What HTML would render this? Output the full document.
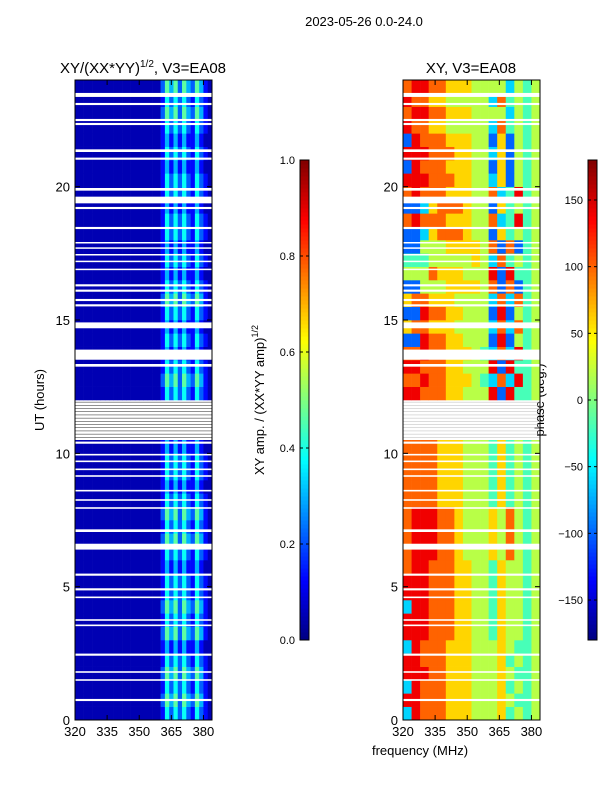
<!DOCTYPE html>
<html><head><meta charset="utf-8"><style>
body{margin:0;background:#fff;width:600px;height:800px;overflow:hidden;font-family:"Liberation Sans",sans-serif}
svg text{font-family:"Liberation Sans",sans-serif;fill:#000}
</style></head><body>
<svg id="fig" width="600" height="800" xmlns="http://www.w3.org/2000/svg">
<text x="364" y="26" font-size="13" text-anchor="middle">2023-05-26 0.0-24.0</text>
<text x="143" y="73" font-size="15" text-anchor="middle">XY/(XX*YY)<tspan dy="-6" font-size="10">1/2</tspan><tspan dy="6">, V3=EA08</tspan></text>
<text x="471" y="73" font-size="15" text-anchor="middle">XY, V3=EA08</text>
<text x="44" y="400" font-size="13" text-anchor="middle" transform="rotate(-90 44 400)">UT (hours)</text>
<text x="420" y="755" font-size="13" text-anchor="middle">frequency (MHz)</text>
<text x="264" y="400" font-size="13" text-anchor="middle" transform="rotate(-90 264 400)">XY amp. / (XX*YY amp)<tspan dy="-6" font-size="9">1/2</tspan></text>
<text x="544" y="400" font-size="13" text-anchor="middle" transform="rotate(-90 544 400)">phase (deg.)</text>
<g id="left"></g>
<g id="right"></g>
<g id="cbs"></g>
<g id="axes"></g>
</svg>
<script>
const leftRows=[
"00000000000000000000142424214210","00000000000000000000253525325310","00000000000000000000142424214210","00000000000000000000253525325310",
"00000000000000000000142424214210","00000000000000000000131313113100","00000000000000000000253525325310","00000000000000000000142424214210",
"00000000000000000000253525325310","00000000000000000000142424214210","00000000000000000000142424214210","00000000000000000000131313113100",
"00000000000000000000142424214210","00000000000000000000253525325310","00000000000000000000142424214210","00000000000000000000253525325310",
"00000000000000000000142424214210","00000000000000000000131313113100","00000000000000000000142424214210","00000000000000000000142424214210",
"00000000000000000000131313113100","xxxxxxxxxxxxxxxxxxxxxxxxxxxxxxxx","xxxxxxxxxxxxxxxxxxxxxxxxxxxxxxxx","xxxxxxxxxxxxxxxxxxxxxxxxxxxxxxxx",
"00000000000000000000142424214210","00000000000000000000253525325310","00000000000000000000142424214210","00000000000000000000131313113100",
"00000000000000000000142424214210","00000000000000000000131313113100","00000000000000000000142424214210","00000000000000000000253525325310",
"00000000000000000000142424214210","00000000000000000000131313113100","00000000000000000000142424214210","00000000000000000000131313113100",
"00000000000000000000142424214210","00000000000000000000142424214210","00000000000000000000131313113100","00000000000000000000142424214210",
"00000000000000000000142424214210","00000000000000000000131313113100","00000000000000000000142424214210","00000000000000000000131313113100",
"00000000000000000000142424214210","00000000000000000000253525325310","00000000000000000000142424214210","00000000000000000000253525325310"];
const rightRows=[
"3877766655564545","8877766655565445","3877766655564545","8887766655565445","8877766655564545","3877766655565445",
"8887776655465545","8887776655465545","3887776655465545","8887776655465545","8887776655465545","7887776655465545",
"7888776555657545","7888776555657545","7888776555657545","7888776555657545",
"7777666555464545","7777666555464545","7777666555464545","7777666555464545",
"7777666555464545","xxxxxxxxxxxxxxxx","xxxxxxxxxxxxxxxx","xxxxxxxxxxxxxxxx",
"8877766555828445","7787766654373845","8877766555828445","7787766654373845",
"2287766555282545","6776665555373745","2287766555282545","6776665555373745",
"2255566665727245","5557666555828445","4445555565374545","2255566665727245",
"2236777655264545","7877766655734845","2236777655264545","7877766655734845",
"8887776655362545","2877766655262545","8887776655362545","2877766655262545",
"8776655555374545","7887766655553545","8776655555374545","7887766655553545"];
const gapsUT=[23.44,23.1,22.5,22.35,21.35,21.05,19.9,19.5,19.2,18.45,17.9,17.7,17.45,17.2,16.9,16.3,16.1,15.75,15.55,14.8,13.7,13.3,10.4,9.95,9.7,9.4,9.15,8.6,8.25,7.95,7.1,6.5,5.45,4.9,4.6,3.75,3.55,2.45,1.8,1.5,0.75];
const gapsW=[0.15,0.08,0.08,0.08,0.1,0.08,0.1,0.25,0.08,0.08,0.05,0.05,0.05,0.05,0.05,0.08,0.08,0.08,0.08,0.22,0.38,0.1,0.08,0.06,0.06,0.06,0.06,0.06,0.06,0.06,0.1,0.22,0.08,0.08,0.06,0.06,0.06,0.08,0.06,0.06,0.08];
const xTicks=[320,335,350,365,380];
const yTicks=[0,5,10,15,20];
const ampTicks=[0.0,0.2,0.4,0.6,0.8,1.0];
const phaseTicks=[-150,-100,-50,0,50,100,150];

const NS="http://www.w3.org/2000/svg";
function jet(v){v=Math.max(0,Math.min(1,v));
 const f=t=>Math.round(255*Math.max(0,Math.min(1,1.5-Math.abs(4*v-t))));
 return `rgb(${f(3)},${f(2)},${f(1)})`;}
function mk(tag,attrs,parent){const e=document.createElementNS(NS,tag);for(const k in attrs)e.setAttribute(k,attrs[k]);parent.appendChild(e);return e;}
const P1={x0:75,x1:212},P2={x0:403,x1:540},Y0=720,Y1=80;
const yS=ut=>Y0-(ut/24)*(Y0-Y1);
const xS=(p,f)=>p.x0+(f-320)/64*(p.x1-p.x0);

function heat(rows,p,g,ncol,vmap){
 const w=64/ncol;
 rows.forEach((row,r)=>{for(let c=0;c<ncol;c++){const ch=row[c];if(ch==='x')continue;
  const x=xS(p,320+c*w),x2=xS(p,320+(c+1)*w),y=yS((r+1)*0.5),y2=yS(r*0.5);
  const el=mk('rect',{x:x,y:y,width:x2-x+0.3,height:y2-y+0.3,fill:jet(vmap(+ch))},g);
  
  }});
 gapsUT.forEach((u,i)=>{const el=mk('rect',{x:p.x0,y:yS(u+gapsW[i]/2),width:p.x1-p.x0,height:Math.max(1.5,yS(u-gapsW[i]/2)-yS(u+gapsW[i]/2)),fill:'#fff'},g);
  
  });
}
heat(leftRows,P1,document.getElementById('left'),32,d=>d/9*0.75+0.05);
heat(rightRows,P2,document.getElementById('right'),16,d=>d/9);
const ax=document.getElementById('axes');
for(let u=10.6;u<12;u+=0.12){
 const l=mk('line',{x1:P1.x0,x2:P1.x1,y1:yS(u),y2:yS(u),stroke:'#222','stroke-width':0.5},ax);
 
 
 const l2=mk('line',{x1:P2.x0,x2:P2.x1,y1:yS(u),y2:yS(u),stroke:'#bbb','stroke-width':0.5},ax);
 
 
}
[P1,P2].forEach((p,pi)=>{
 const fr=mk('rect',{x:p.x0,y:Y1,width:p.x1-p.x0,height:Y0-Y1,fill:'none',stroke:'#000','stroke-width':1},ax);
 
 
 xTicks.forEach(t=>{const x=xS(p,t);
  mk('line',{x1:x,x2:x,y1:Y0,y2:Y0-5,stroke:'#000'},ax);mk('line',{x1:x,x2:x,y1:Y1,y2:Y1+5,stroke:'#000'},ax);
  const tx=mk('text',{x:x,y:Y0+16,'font-size':13,'text-anchor':'middle'},ax);tx.textContent=t;
  
  });
 yTicks.forEach(t=>{const y=yS(t);
  mk('line',{x1:p.x0,x2:p.x0+5,y1:y,y2:y,stroke:'#000'},ax);mk('line',{x1:p.x1,x2:p.x1-5,y1:y,y2:y,stroke:'#000'},ax);
  const tx=mk('text',{x:p.x0-5,y:y+5,'font-size':13,'text-anchor':'end'},ax);tx.textContent=t;
  
  });
});
const cb=document.getElementById('cbs');
function colorbar(x,lo,hi,ticks,name){
 const n=120,top=160,bot=640;
 for(let i=0;i<n;i++){const y=bot-(i+1)*(bot-top)/n;
  mk('rect',{x:x,y:y,width:9,height:(bot-top)/n+0.5,fill:jet((i+0.5)/n)},cb);}
 const fr=mk('rect',{x:x,y:top,width:9,height:bot-top,fill:'none',stroke:'#000'},cb);
 
 
 ticks.forEach(t=>{const y=bot-(t-lo)/(hi-lo)*(bot-top);
  mk('line',{x1:x,x2:x+3,y1:y,y2:y,stroke:'#000'},cb);mk('line',{x1:x+9,x2:x+6,y1:y,y2:y,stroke:'#000'},cb);
  const tx=mk('text',{x:x-5,y:y+4,'font-size':11,'text-anchor':'end'},cb);
  tx.textContent=(lo===0?t.toFixed(1):t).toString().replace('-','\u2212');
  
  });
}
colorbar(300,0,1,ampTicks,'amp-colorbar');
colorbar(588,-180,180,phaseTicks,'phase-colorbar');
</script>
</body></html>
